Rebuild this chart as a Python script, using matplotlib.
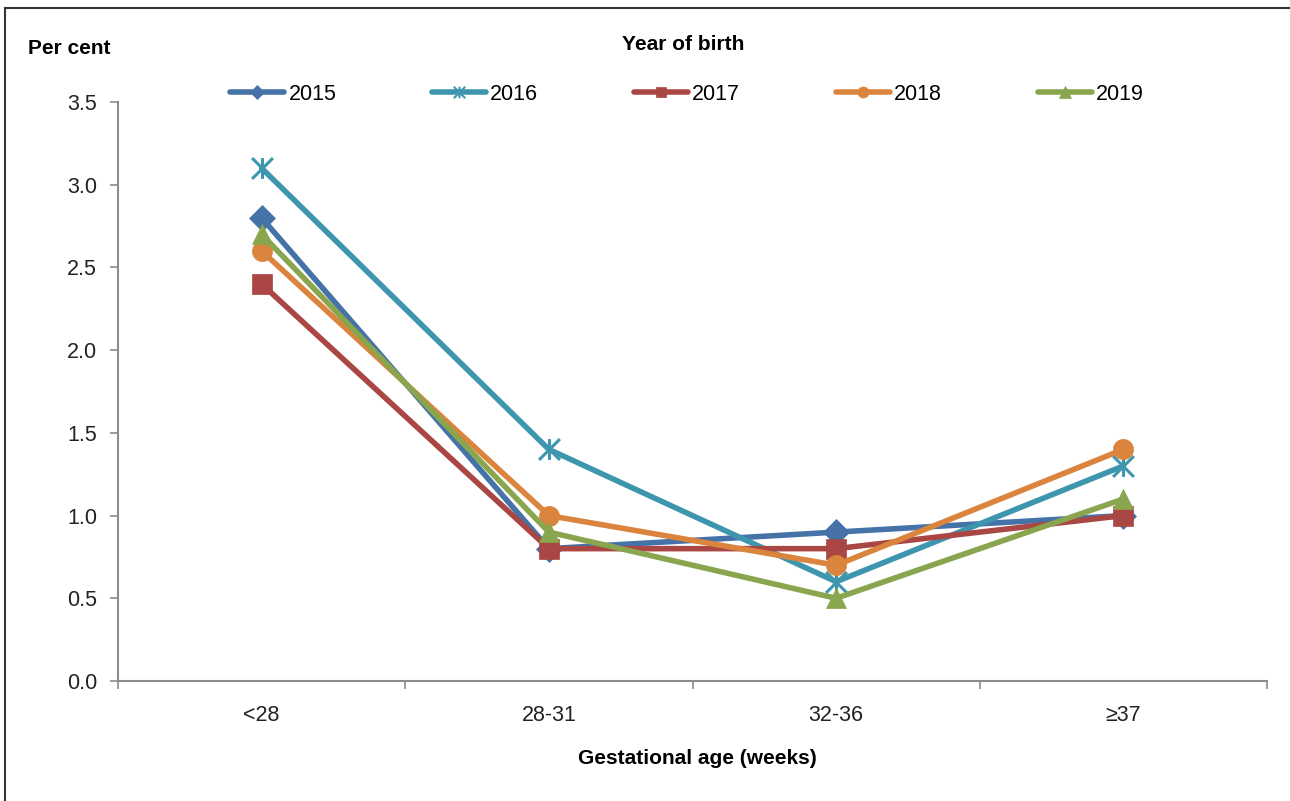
import matplotlib
matplotlib.use("Agg")
import matplotlib.pyplot as plt
from matplotlib.path import Path
from matplotlib.lines import Line2D

plt.rcParams['font.family'] = ['Liberation Sans', 'DejaVu Sans']

categories = ["<28", "28-31", "32-36", "≥37"]
years = ["2015", "2016", "2017", "2018", "2019"]
v2015 = [2.8, 0.8, 0.9, 1.0]
v2016 = [3.1, 1.4, 0.6, 1.3]
v2017 = [2.4, 0.8, 0.8, 1.0]
v2018 = [2.6, 1.0, 0.7, 1.4]
v2019 = [2.7, 0.9, 0.5, 1.1]
series = [v2015, v2016, v2017, v2018, v2019]

colors = ["#4572A7", "#3D96AE", "#AA4643", "#DB843D", "#89A54E"]

# asterisk marker: an "x" with a vertical bar through it
star = Path([(0, -1), (0, 1), (-1, -1), (1, 1), (-1, 1), (1, -1)],
            [Path.MOVETO, Path.LINETO, Path.MOVETO, Path.LINETO,
             Path.MOVETO, Path.LINETO])
markers = ["D", star, "s", "o", "^"]
msizes = [13, 15, 14, 14.5, 15]

TICK_FS = 15.5
TITLE_FS = 15

fig = plt.figure(figsize=(12.9, 8.01), dpi=100)
ax = fig.add_axes([118 / 1290, 1 - 681 / 801, (1267 - 118) / 1290, (681 - 102) / 801])

x = list(range(len(categories)))
for name, vals, c, m, ms in zip(years, series, colors, markers, msizes):
    ax.plot(x, vals, color=c, lw=4.0, marker=m, markersize=ms,
            markerfacecolor=c, markeredgecolor=c,
            markeredgewidth=2.2 if m is star else 0.5,
            solid_joinstyle='round', solid_capstyle='round', label=name)

ax.set_xlim(-0.5, len(categories) - 0.5)
ax.set_ylim(0, 3.5)
ax.set_yticks([0, 0.5, 1.0, 1.5, 2.0, 2.5, 3.0, 3.5])
ax.set_yticklabels([f"{t:.1f}" for t in ax.get_yticks()])
ax.set_xticks(x)
ax.set_xticklabels(categories)
ax.set_xticks([i - 0.5 for i in range(len(categories) + 1)], minor=True)

for side in ["top", "right"]:
    ax.spines[side].set_visible(False)
for side in ["left", "bottom"]:
    ax.spines[side].set_color("#8c8c8c")
    ax.spines[side].set_linewidth(1.5)

ax.tick_params(axis='y', direction='out', length=6, width=1.2, color="#8c8c8c",
               labelsize=TICK_FS, labelcolor="#222222", pad=9)
ax.tick_params(axis='x', which='major', length=0, labelsize=TICK_FS,
               labelcolor="#222222", pad=17)
ax.tick_params(axis='x', which='minor', direction='out', length=6, width=1.2,
               color="#8c8c8c")

fig.text(28 / 1290, 1 - 48 / 801, "Per cent", fontsize=TITLE_FS, fontweight='bold',
         ha='left', va='center')
fig.text(683 / 1290, 1 - 44 / 801, "Year of birth", fontsize=TITLE_FS, fontweight='bold',
         ha='center', va='center')
fig.text(697 / 1290, 1 - 758 / 801, "Gestational age (weeks)", fontsize=TITLE_FS,
         fontweight='bold', ha='center', va='center')

leg_handles = [Line2D([0], [0], color=c, lw=4.0, marker=m,
                      markersize=ms * 0.55, markerfacecolor=c, markeredgecolor=c,
                      markeredgewidth=1.5 if m is star else 0.5,
                      solid_capstyle='round')
               for c, m, ms in zip(colors, markers, msizes)]
fig.legend(leg_handles, years, loc='center', bbox_to_anchor=(687 / 1290, 1 - 94 / 801),
           ncol=5, frameon=False, fontsize=TICK_FS, handlelength=2.5, handletextpad=0.2,
           columnspacing=4.45)

# frame around the figure
fig.add_artist(Line2D([5 / 1290, 5 / 1290], [0, 1 - 8 / 801], transform=fig.transFigure,
                      color="#333333", lw=1.5))
fig.add_artist(Line2D([5 / 1290, 1], [1 - 8 / 801, 1 - 8 / 801], transform=fig.transFigure,
                      color="#333333", lw=1.5))

fig.savefig("out.png", dpi=100, facecolor="white")
